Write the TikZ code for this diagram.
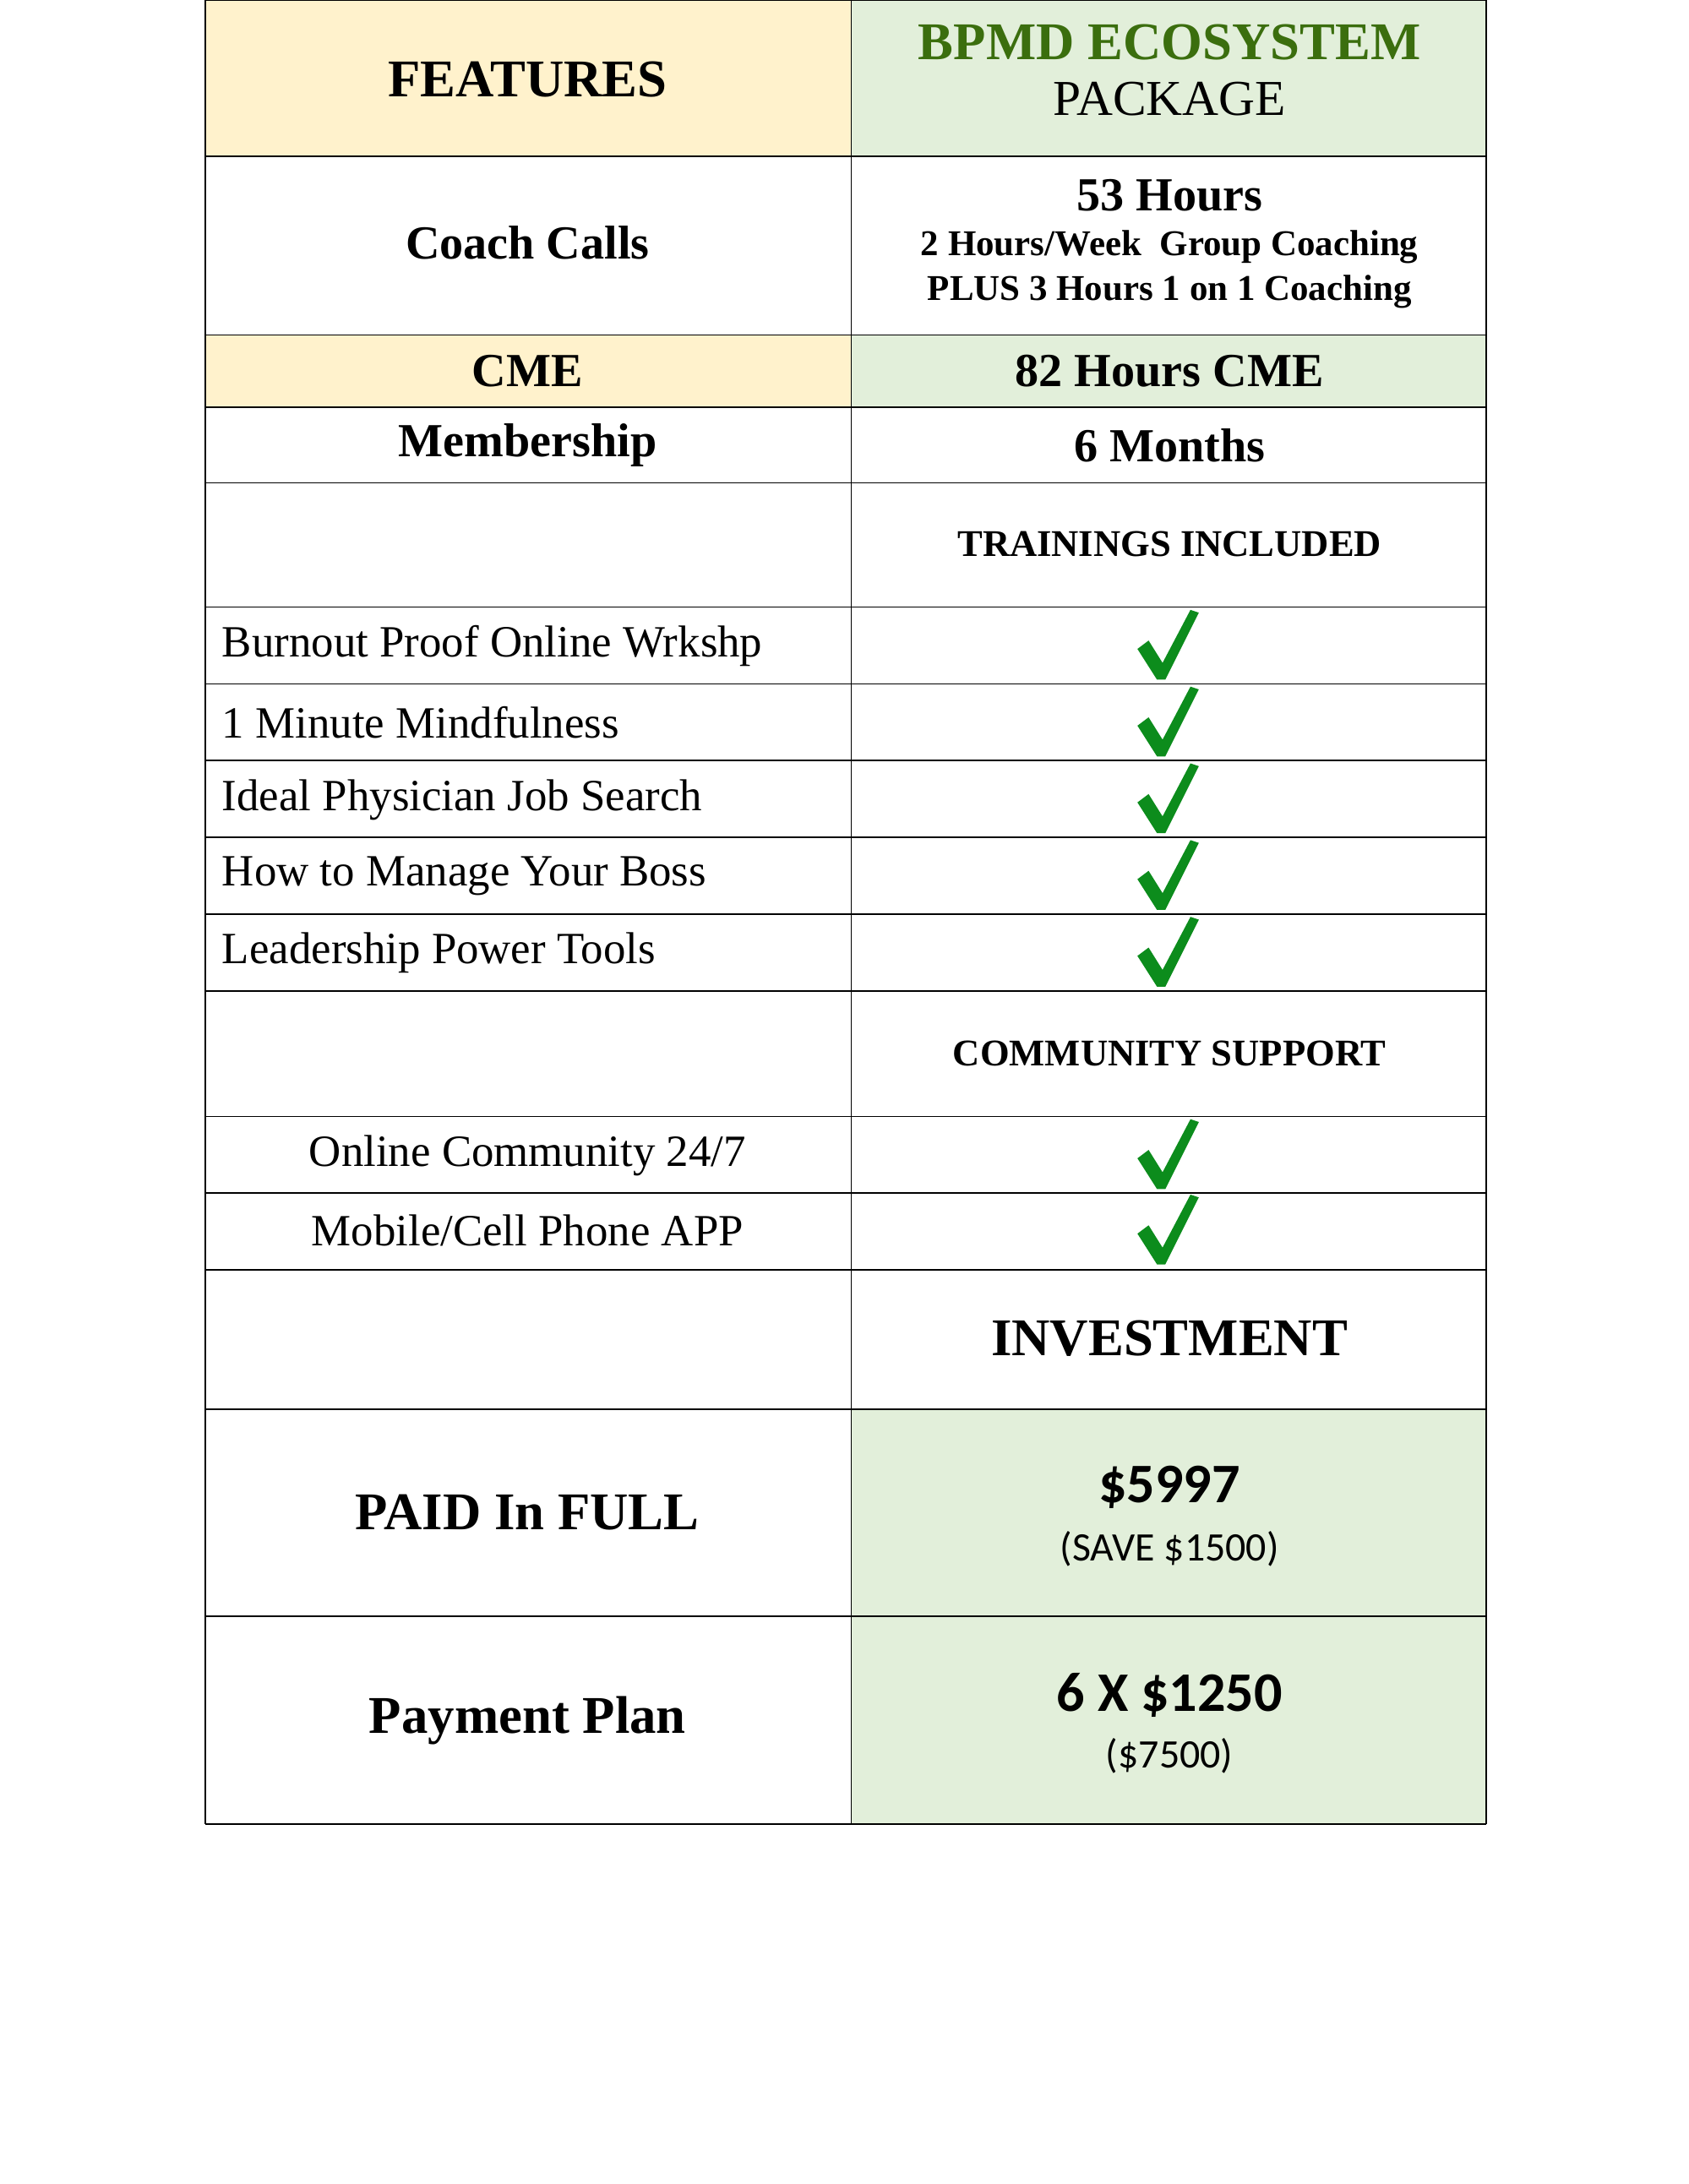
\documentclass[tikz,border=0pt]{standalone}
\usepackage{fontspec}
\usetikzlibrary{calc}
\setmainfont{Liberation Serif}
\newfontfamily\calfnt{Carlito}
\definecolor{yel}{HTML}{FFF2CC}
\definecolor{grn}{HTML}{E2EFDA}
\definecolor{ttl}{HTML}{3B6E0E}
\definecolor{chk}{HTML}{0C8C1C}
\begin{document}
\begin{tikzpicture}[x=1pt,y=-1pt,
 txt/.style={font=\fontsize{32}{36}\selectfont,inner sep=0pt},
 btxt/.style={font=\fontsize{34}{38}\selectfont\bfseries,inner sep=0pt},
 big/.style={font=\fontsize{38}{42}\selectfont\bfseries,inner sep=0pt},
 caps/.style={font=\fontsize{27}{30}\selectfont\bfseries,inner sep=0pt},
 sm/.style={font=\fontsize{26}{30}\selectfont\bfseries,inner sep=0pt}]
\useasboundingbox (0,0) rectangle (1210,1565);
\newcommand\chkmark[1]{\fill[chk] ($#1+(-22,2)$) -- ($#1+(-14,-4)$) -- ($#1+(-4,12)$) -- ($#1+(16,-26)$) -- ($#1+(22,-24)$) -- ($#1+(-2,24)$) -- ($#1+(-8,24)$) -- cycle;}
% fills
\fill[yel] (147,0) rectangle (610,112);
\fill[grn] (610,0) rectangle (1065,112);
\fill[yel] (147,240) rectangle (610,292);
\fill[grn] (610,240) rectangle (1065,292);
\fill[grn] (610,1010) rectangle (1065,1307);
% grid
\foreach \y in {0,112,240,292,346,435,490,545,600,655,710,800,855,910,1010,1158,1307}
  \draw[line width=1pt] (147,\y) -- (1065,\y);
\foreach \x in {147,610,1065} \draw[line width=1pt] (\x,0) -- (\x,1307);
% checks
\foreach \y in {463,518,573,628,683,828,882} {\chkmark{(837,\y)}}
% texts
\node[big] (f) at (378,57) {FEATURES};
\node[big,text=ttl] (h1) at (838,30) {BPMD ECOSYSTEM};
\node[font=\fontsize{36}{40}\selectfont,inner sep=0pt] (h2) at (838,71) {PACKAGE};
\node[btxt] (cc) at (378,174) {Coach Calls};
\node[btxt] (c53) at (838,140) {53 Hours};
\node[sm] (c2h) at (838,177) {2 Hours/Week\ \ Group Coaching};
\node[sm] (cpl) at (838,209) {PLUS 3 Hours 1 on 1 Coaching};
\node[btxt] (cme) at (378,266) {CME};
\node[btxt] (cmeh) at (838,266) {82 Hours CME};
\node[btxt] (m) at (378,319) {Membership};
\node[btxt] (mm) at (838,319) {6 Months};
\node[caps] (ti) at (838,390) {TRAININGS INCLUDED};
\node[txt,anchor=west] (t1) at (159,463) {Burnout Proof Online Wrkshp};
\node[txt,anchor=west] (t2) at (159,518) {1 Minute Mindfulness};
\node[txt,anchor=west] (t3) at (159,573) {Ideal Physician Job Search};
\node[txt,anchor=west] (t4) at (159,628) {How to Manage Your Boss};
\node[txt,anchor=west] (t5) at (159,683) {Leadership Power Tools};
\node[caps] (cs) at (838,755) {COMMUNITY SUPPORT};
\node[txt] (c1) at (378,828) {Online Community 24/7};
\node[txt] (c2) at (378,882) {Mobile/Cell Phone APP};
\node[big] (inv) at (838,959) {INVESTMENT};
\node[big] (pf) at (378,1084) {PAID In FULL};
\node[inner sep=0pt,font=\calfnt\fontsize{40}{44}\selectfont\bfseries] (pfv) at (838,1066) {\$5997};
\node[inner sep=0pt,font=\calfnt\fontsize{29}{32}\selectfont] (pfs) at (838,1110) {(SAVE \$1500)};
\node[big] (pp) at (378,1233) {Payment Plan};
\node[inner sep=0pt,font=\calfnt\fontsize{40}{44}\selectfont\bfseries] (ppv) at (838,1215) {6 X \$1250};
\node[inner sep=0pt,font=\calfnt\fontsize{29}{32}\selectfont] (pps) at (838,1258) {(\$7500)};
\end{tikzpicture}
\end{document}
